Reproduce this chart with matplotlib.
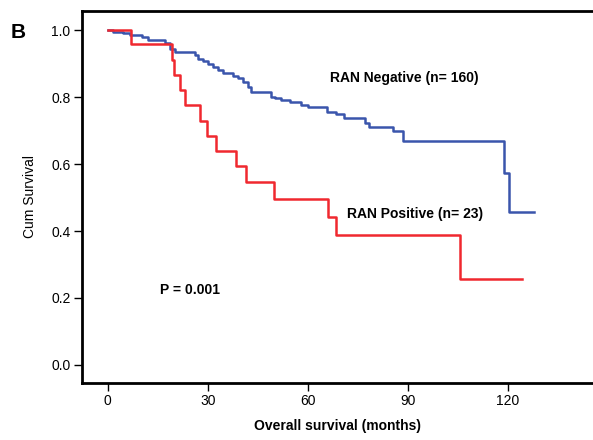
import matplotlib
matplotlib.use('Agg')
import matplotlib.pyplot as plt
import numpy as np

plt.rcParams['font.family'] = ['Liberation Sans', 'DejaVu Sans']

# RAN Negative (n=160): step times (months) and cumulative survival
neg_months = [0, 1.7, 4.6, 6.7, 10.2, 12.1, 17.1, 18.6, 20.1, 26.1, 27.1, 28.6,
              30.1, 31.6, 33.1, 34.6, 37.6, 39.1, 40.6, 42.1, 43.1, 49.1, 50.1,
              52.1, 54.6, 58.1, 60.1, 65.6, 68.4, 70.8, 77.1, 78.4, 85.6, 88.6,
              118.9, 120.3, 127.9]
neg_surv = [1.0, 0.995, 0.990, 0.985, 0.980, 0.970, 0.960, 0.945, 0.935, 0.925,
            0.915, 0.908, 0.900, 0.890, 0.881, 0.871, 0.863, 0.856, 0.846, 0.831,
            0.816, 0.801, 0.796, 0.791, 0.786, 0.776, 0.769, 0.756, 0.749, 0.736,
            0.723, 0.711, 0.699, 0.669, 0.574, 0.458, 0.458]

# RAN Positive (n=23)
pos_months = [0, 6.9, 19.4, 19.9, 21.6, 23.2, 27.8, 29.8, 32.6, 38.6, 41.6,
              49.9, 66.0, 68.4, 105.6, 124.1]
pos_surv = [1.0, 0.958, 0.912, 0.866, 0.821, 0.776, 0.729, 0.684, 0.639, 0.595,
            0.547, 0.497, 0.443, 0.388, 0.257, 0.257]

x_ticks = [0, 30, 60, 90, 120]
y_ticks = [0.0, 0.2, 0.4, 0.6, 0.8, 1.0]

W, H = 593, 440
fig = plt.figure(figsize=(W / 100, H / 100), dpi=100)
ax = fig.add_axes([81.7 / W, 1 - 382.7 / H, 1 - 81.7 / W, (382.7 - 11) / H])

ax.step(neg_months, neg_surv, where='post', color='#3a55ac', lw=1.8)
ax.step(pos_months, pos_surv, where='post', color='#f0282f', lw=1.8)

ax.set_xlim(-7.8, 145.5)
ax.set_ylim(-0.053, 1.057)
ax.set_xticks(x_ticks)
ax.set_yticks(y_ticks)
ax.set_xticklabels([str(t) for t in x_ticks])
ax.set_yticklabels(['%.1f' % t for t in y_ticks])

for side in ['left', 'bottom', 'top']:
    ax.spines[side].set_linewidth(2.0)
ax.spines['right'].set_visible(False)
ax.tick_params(direction='out', length=6, width=1, labelsize=10, pad=2)

ax.set_xlabel('Overall survival (months)', fontsize=10, fontweight='bold', labelpad=8)
ax.set_ylabel('Cum Survival', fontsize=10, labelpad=10)

# annotations placed in pixel positions (top-left origin) converted to figure fraction
def put(px, py, s, **kw):
    fig.text(px / W, 1 - py / H, s, ha='center', va='center', **kw)

put(404, 78, 'RAN Negative (n= 160)', fontsize=10, fontweight='bold')
put(415, 214, 'RAN Positive (n= 23)', fontsize=10, fontweight='bold')
put(190, 290, 'P = 0.001', fontsize=10, fontweight='bold')
put(18, 33, 'B', fontsize=15, fontweight='bold')

fig.savefig('out.png', dpi=100)
